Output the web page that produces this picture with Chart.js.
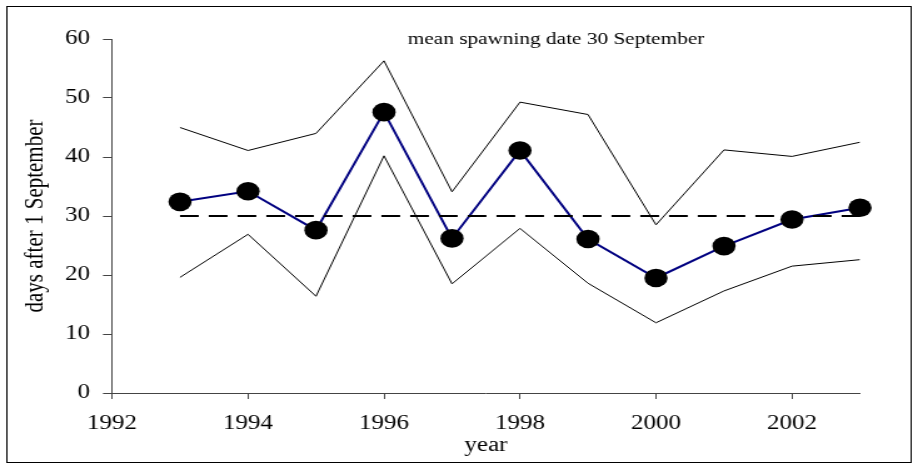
<!DOCTYPE html>
<html lang="en">
  <head>
    <meta charset="UTF-8" />
    <title>mean spawning date</title>
    <script src="https://cdn.jsdelivr.net/npm/chart.js"></script>
    <style>
      html, body { margin: 0; padding: 0; overflow: hidden; background: #fff; }
      /* the original picture is stretched sideways, so the chart is drawn narrow and widened */
      .quadro {
        position: absolute; left: 0; top: 0;
        width: 730px; height: 464px;
        transform: scaleX(1.2507); transform-origin: 0 0;
      }
    </style>
  </head>
  <body>
    <div class="quadro">
      <canvas id="myCanvas"></canvas>
    </div>

    <script>
      const anos = [1993, 1994, 1995, 1996, 1997, 1998, 1999, 2000, 2001, 2002, 2003];
      const media = [32.4, 34.2, 27.6, 47.6, 26.2, 41.1, 26.1, 19.5, 24.9, 29.4, 31.4];
      const superior = [45.0, 41.1, 44.0, 56.3, 34.1, 49.3, 47.2, 28.5, 41.2, 40.1, 42.5];
      const inferior = [19.6, 26.9, 16.4, 40.2, 18.5, 27.9, 18.6, 11.9, 17.3, 21.5, 22.6];
      const mediaGeral = 30;
      const ticksX = [1992, 1994, 1996, 1998, 2000, 2002];
      const ticksY = [0, 10, 20, 30, 40, 50, 60];

      const titulo = "mean spawning date 30 September";
      const fonte = "'Liberation Serif', 'Times New Roman', serif";

      function pontos(valores) {
        return anos.map((a, i) => ({ x: a, y: valores[i] }));
      }

      // moldura e texto do topo
      const moldura = {
        id: "moldura",
        beforeDraw(chart) {
          const ctx = chart.ctx;
          ctx.save();
          ctx.strokeStyle = "#000";
          ctx.lineWidth = 1;
          ctx.strokeRect(5.5, 6.5, 723, 456);
          ctx.restore();
        },
        afterDraw(chart) {
          const ctx = chart.ctx;
          ctx.save();
          ctx.fillStyle = "#000";
          ctx.font = "17px " + fonte;
          ctx.textAlign = "center";
          ctx.textBaseline = "alphabetic";
          ctx.fillText(titulo, 444.6, 44);
          ctx.restore();
        },
      };

      const ctx = document.getElementById("myCanvas").getContext("2d");
      const myChart = new Chart(ctx, {
        type: "line",
        data: {
          datasets: [
            {
              data: pontos(superior),
              borderColor: "#000",
              borderWidth: 1,
              pointRadius: 0,
            },
            {
              data: pontos(inferior),
              borderColor: "#000",
              borderWidth: 1,
              pointRadius: 0,
            },
            {
              data: [
                { x: anos[0], y: mediaGeral },
                { x: anos[anos.length - 1], y: mediaGeral },
              ],
              borderColor: "#000",
              borderWidth: 2,
              borderDash: [15, 8],
              pointRadius: 0,
            },
            {
              data: pontos(media),
              borderColor: "#000080",
              borderWidth: 2,
              pointRadius: 9.3,
              pointBackgroundColor: "#000",
              pointBorderColor: "#000",
              pointBorderWidth: 0,
              clip: false,
            },
          ],
        },
        options: {
          responsive: true,
          maintainAspectRatio: false,
          animation: false,
          layout: {
            padding: { left: 0, top: 39, right: 42.4, bottom: 0 },
          },
          plugins: {
            legend: { display: false },
            tooltip: { enabled: false },
          },
          scales: {
            x: {
              type: "linear",
              min: 1992,
              max: 2003,
              afterFit: (s) => { s.height = 71; },
              afterBuildTicks: (s) => { s.ticks = ticksX.map((v) => ({ value: v })); },
              ticks: {
                color: "#000",
                padding: 13,
                maxRotation: 0,
                font: { family: fonte, size: 20 },
                callback: (v) => String(v),
              },
              grid: {
                drawOnChartArea: false,
                tickLength: 6,
                tickColor: "#444",
              },
              border: { color: "#444", width: 1 },
              title: {
                display: true,
                text: "year",
                color: "#000",
                font: { family: fonte, size: 20 },
                padding: { top: 0, bottom: 6 },
              },
            },
            y: {
              min: 0,
              max: 60,
              afterFit: (s) => { s.width = 89.55; },
              afterBuildTicks: (s) => { s.ticks = ticksY.map((v) => ({ value: v })); },
              ticks: {
                color: "#000",
                padding: 10.3,
                font: { family: fonte, size: 20 },
              },
              grid: {
                drawOnChartArea: false,
                tickLength: 7.2,
                tickColor: "#444",
              },
              border: { color: "#444", width: 1 },
              title: {
                display: true,
                text: "days after 1 September",
                color: "#000",
                font: { family: fonte, size: 21 },
                padding: { top: 15.4, bottom: 0 },
              },
            },
          },
        },
        plugins: [moldura],
      });
    </script>
  </body>
</html>
